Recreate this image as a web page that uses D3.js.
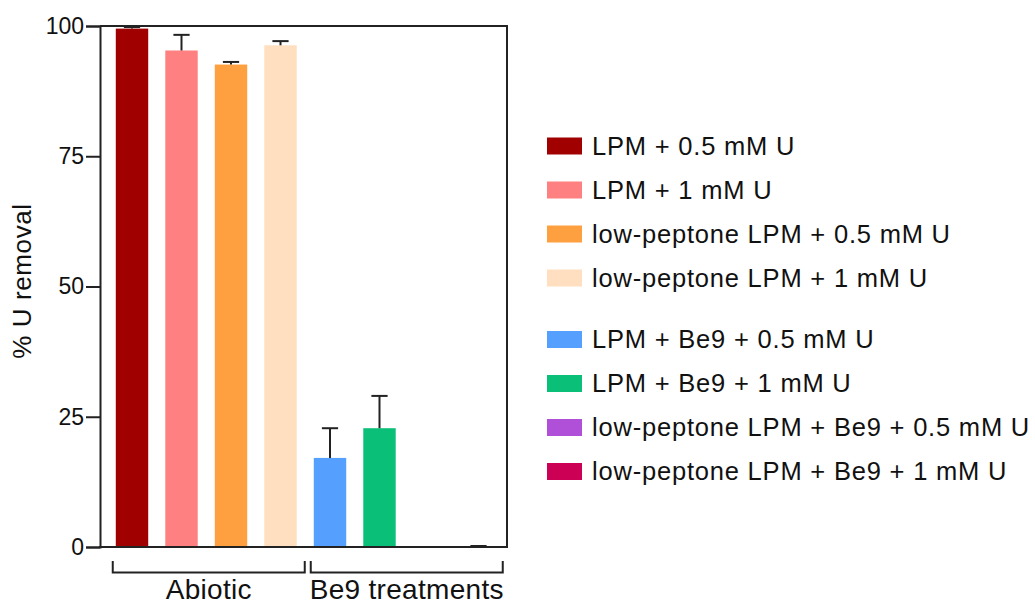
<!DOCTYPE html>
<html>
<head>
<meta charset="utf-8">
<script src="https://cdn.jsdelivr.net/npm/d3@7"></script>
<style>
  body { margin: 0; background: #fff; }
  svg { font-family: "Liberation Sans", Arial, Helvetica, sans-serif; }
</style>
</head>
<body>
<svg id="chart" width="1035" height="606"></svg>
<script>
// treatments, in bar order
var treatments = [
  "LPM + 0.5 mM U",
  "LPM + 1 mM U",
  "low-peptone LPM + 0.5 mM U",
  "low-peptone LPM + 1 mM U",
  "LPM + Be9 + 0.5 mM U",
  "LPM + Be9 + 1 mM U",
  "low-peptone LPM + Be9 + 0.5 mM U",
  "low-peptone LPM + Be9 + 1 mM U"
];
var removal = [99.5, 95.3, 92.6, 96.3, 17.1, 22.8, 0, 0];
var removalErr = [0.3, 3.0, 0.5, 0.8, 5.7, 6.2, null, 0];
var barColors = ["#a00000", "#ff8080", "#ffa040", "#ffdfc0", "#55a0ff", "#0abf78", "#b050d8", "#cc0055"];
var yTicks = [0, 25, 50, 75, 100];
var groupNames = ["Abiotic", "Be9 treatments"];
var groupStart = [0, 4];
var groupEnd = [3, 7];

var svg = d3.select("#chart");
var pLeft = 100, pRight = 507, pTop = 26, pBottom = 547;

var x = d3.scaleBand()
  .domain(d3.range(treatments.length))
  .range([107.25, 503.25])
  .paddingInner(0.345)
  .paddingOuter(0.1725);

var y = d3.scaleLinear().domain([0, 100]).range([pBottom, pTop]);

// bars
svg.append("g")
  .selectAll("rect")
  .data(removal)
  .enter()
  .append("rect")
  .attr("x", function (d, i) { return x(i); })
  .attr("y", function (d) { return y(d); })
  .attr("width", x.bandwidth())
  .attr("height", function (d) { return y(0) - y(d); })
  .style("fill", function (d, i) { return barColors[i]; });

// frame top + right
svg.append("path")
  .attr("d", "M" + pLeft + "," + pTop + "H" + pRight + "V" + pBottom)
  .style("fill", "none")
  .style("stroke", "#222")
  .style("stroke-width", "2px");

// y axis
var yAxis = svg.append("g")
  .attr("transform", "translate(" + pLeft + ",0)")
  .call(d3.axisLeft(y).tickValues(yTicks).tickSize(14).tickPadding(2));
yAxis.select(".domain").style("stroke", "#222").style("stroke-width", "2px");
yAxis.selectAll(".tick line").style("stroke", "#222").style("stroke-width", "2px");
yAxis.selectAll(".tick text")
  .style("font-size", "23px")
  .style("fill", "#111")
  .style("font-family", "'Liberation Sans', Arial, sans-serif");

// x baseline
svg.append("line")
  .attr("x1", pLeft - 1).attr("x2", pRight + 1)
  .attr("y1", pBottom).attr("y2", pBottom)
  .style("stroke", "#222")
  .style("stroke-width", "2px");

// error bars, upper side only
var err = svg.append("g")
  .selectAll("g")
  .data(removal.map(function (v, i) { return { i: i, v: v, e: removalErr[i] }; })
    .filter(function (d) { return d.e !== null; }))
  .enter()
  .append("g")
  .style("stroke", "#222")
  .style("stroke-width", "2px");
err.append("line")
  .attr("x1", function (d) { return x(d.i) + x.bandwidth() / 2; })
  .attr("x2", function (d) { return x(d.i) + x.bandwidth() / 2; })
  .attr("y1", function (d) { return y(d.v); })
  .attr("y2", function (d) { return y(d.v + d.e); });
err.append("line")
  .attr("x1", function (d) { return x(d.i) + x.bandwidth() / 4; })
  .attr("x2", function (d) { return x(d.i) + x.bandwidth() * 3 / 4; })
  .attr("y1", function (d) { return y(d.v + d.e) - (d.e === 0 ? 1 : 0); })
  .attr("y2", function (d) { return y(d.v + d.e) - (d.e === 0 ? 1 : 0); });

svg.append("text")
  .attr("transform", "translate(31,281) rotate(-90)")
  .attr("text-anchor", "middle")
  .style("font-size", "26px")
  .style("letter-spacing", "0.6px")
  .style("fill", "#111")
  .text("% U removal");

// group brackets
var half = x.step() * x.paddingInner() / 2;
groupNames.forEach(function (name, g) {
  var x0 = x(groupStart[g]) - half + 5.5;
  var x1 = x(groupEnd[g]) + x.bandwidth() + half - 0.5;
  svg.append("path")
    .attr("d", "M" + x0 + ",561V572.5H" + x1 + "V561")
    .style("fill", "none")
    .style("stroke", "#222")
    .style("stroke-width", "2px");
  svg.append("text")
    .attr("x", (x0 + x1) / 2)
    .attr("y", 599)
    .attr("text-anchor", "middle")
    .style("font-size", "28px")
    .style("letter-spacing", "0.3px")
    .style("fill", "#111")
    .text(name);
});

// legend
var legendY = [146, 190, 234, 278, 339.5, 383.5, 427.5, 471.5];
var legend = svg.append("g")
  .selectAll("g")
  .data(treatments)
  .enter()
  .append("g")
  .attr("transform", function (d, i) { return "translate(547," + legendY[i] + ")"; });
legend.append("rect")
  .attr("x", 0).attr("y", -8.5)
  .attr("width", 35).attr("height", 17)
  .style("fill", function (d, i) { return barColors[i]; });
legend.append("text")
  .attr("x", 45)
  .attr("y", 0)
  .attr("dy", "0.35em")
  .style("font-size", "25.5px")
  .style("letter-spacing", "0.8px")
  .style("fill", "#111")
  .text(function (d) { return d; });
</script>
</body>
</html>
